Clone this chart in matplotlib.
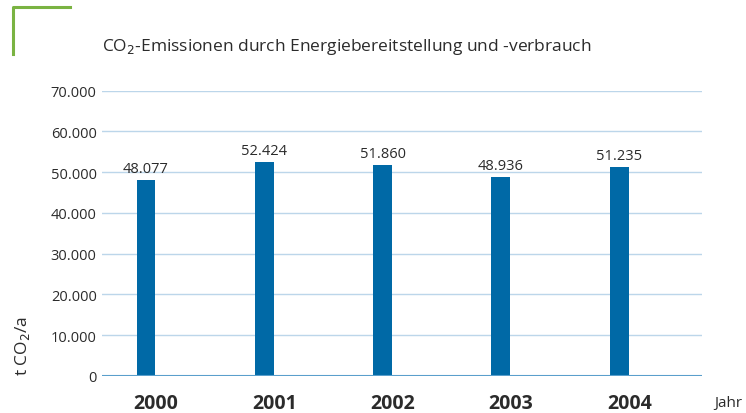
import matplotlib
matplotlib.use('Agg')
from matplotlib import pyplot as plt
from matplotlib.lines import Line2D
from matplotlib.transforms import ScaledTranslation

# Data
years = ['2000', '2001', '2002', '2003', '2004']
emissions = [48077, 52424, 51860, 48936, 51235]
y_ticks = [0, 10000, 20000, 30000, 40000, 50000, 60000, 70000]


def de_format(v):
    return f'{v:,.0f}'.replace(',', '.')


plt.rcParams['font.family'] = ['Open Sans', 'DejaVu Sans']
text_col = '#2b2b2b'

fig = plt.figure(figsize=(7.46, 4.14), dpi=100)
ax = fig.add_axes([0.137, 0.0894, 0.804, 0.689])

x = list(range(len(years)))
ax.bar(x, emissions, width=0.16, color='#0069a6', zorder=3)

for xi, v in zip(x, emissions):
    ax.text(xi, v + 1000, de_format(v), ha='center', va='bottom',
            fontsize=10.5, color=text_col, zorder=4)

ax.set_xlim(-0.37, 4.70)
ax.set_ylim(0, 70000)
ax.set_yticks(y_ticks)
ax.set_yticklabels([de_format(t) for t in y_ticks], fontsize=10.5, color=text_col)
ax.set_xticks(x)
ax.set_xticklabels(years, fontsize=14, fontweight='bold', color=text_col)
ax.tick_params(axis='both', length=0, pad=4)
ax.tick_params(axis='x', pad=12)
# year labels sit a little right of the bars in the original
shift = ScaledTranslation(10 / 100, 0, fig.dpi_scale_trans)
for lbl in ax.get_xticklabels():
    lbl.set_transform(lbl.get_transform() + shift)

for t in y_ticks[1:]:
    ax.axhline(t, color='#bcd6ea', linewidth=1.0, zorder=1)
ax.axhline(0, color='#5a9fcc', linewidth=1.5, zorder=4)
for s in ax.spines.values():
    s.set_visible(False)

# y axis label placed low, as in the original
fig.text(22 / 746, 1 - 346 / 414, 't CO$_2$/a', rotation=90, ha='center', va='center',
         fontsize=12.5, color=text_col)

fig.text(728 / 746, 1 - 404 / 414, 'Jahr', ha='center', va='center',
         fontsize=11, color=text_col)
fig.text(102 / 746, 1 - 47 / 414, 'CO$_2$-Emissionen durch Energiebereitstellung und -verbrauch',
         ha='left', va='center', fontsize=12.5, fontweight='medium', color=text_col)

# green corner mark
fig.add_artist(Line2D([13 / 746, 13 / 746, 70 / 746], [1 - 55 / 414, 1 - 8 / 414, 1 - 8 / 414],
                      transform=fig.transFigure, color='#7ab342', linewidth=2.2))

plt.savefig('out.png', dpi=100)
